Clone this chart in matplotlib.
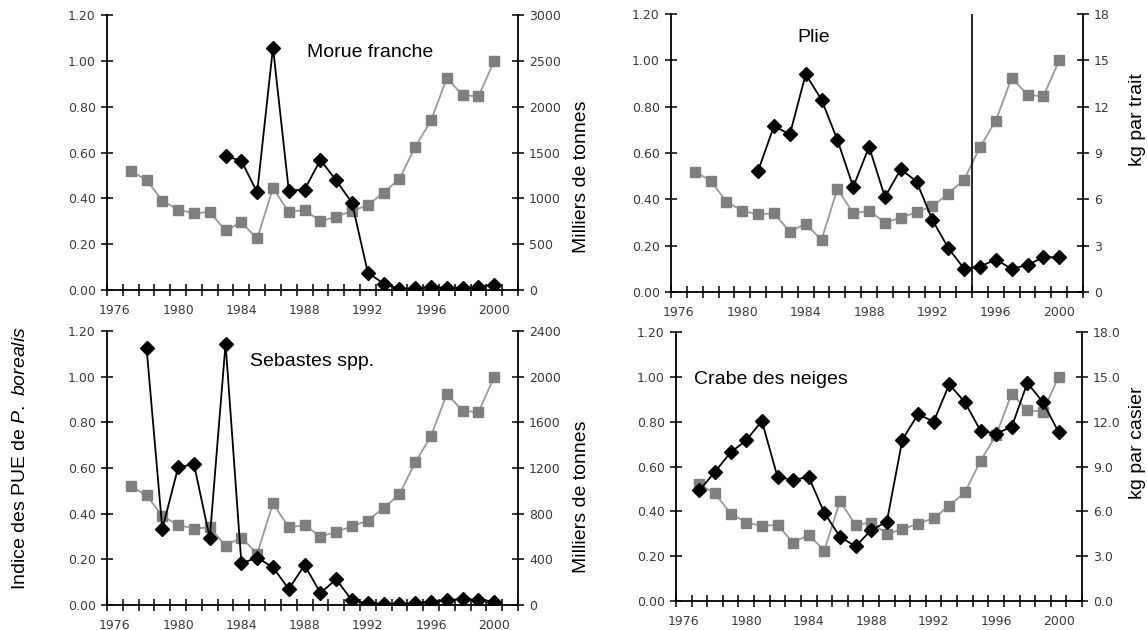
import matplotlib
matplotlib.use("Agg")
import matplotlib.pyplot as plt
from matplotlib.ticker import FixedLocator, FormatStrFormatter

plt.rcParams["font.family"] = ["Liberation Sans", "DejaVu Sans"]
plt.rcParams["mathtext.fontset"] = "custom"
plt.rcParams["mathtext.rm"] = "Liberation Sans"
plt.rcParams["mathtext.it"] = "Liberation Sans:italic"

# P. borealis CPUE index (same grey series in every panel)
index_years = list(range(1977, 2001))
pborealis_index = [0.52, 0.48, 0.39, 0.35, 0.335, 0.34, 0.26, 0.295, 0.225, 0.445,
                   0.34, 0.35, 0.30, 0.32, 0.345, 0.37, 0.425, 0.485, 0.625, 0.74,
                   0.925, 0.85, 0.845, 1.00]

cod_years = list(range(1983, 2001))
cod_values = [1460, 1410, 1065, 2645, 1085, 1095, 1420, 1195, 950, 190,
              70, 10, 18, 33, 26, 26, 33, 60]

plaice_years = list(range(1981, 2001))
plaice_values = [7.85, 10.75, 10.2, 14.1, 12.45, 9.85, 6.8, 9.4, 6.15, 7.95,
                 7.15, 4.65, 2.85, 1.5, 1.65, 2.1, 1.5, 1.75, 2.25, 2.25]

redfish_years = list(range(1978, 2001))
redfish_values = [2255, 665, 1205, 1235, 585, 2290, 365, 415, 330, 140, 350, 105,
                  225, 40, 15, 10, 10, 15, 30, 40, 55, 45, 30]

crab_years = list(range(1977, 2001))
crab_values = [7.4, 8.65, 9.95, 10.75, 12.05, 8.3, 8.1, 8.3, 5.9, 4.3, 3.65, 4.75,
               5.3, 10.8, 12.5, 12.0, 14.5, 13.3, 11.4, 11.2, 11.65, 14.6, 13.3, 11.3]

year_labels = [1976, 1980, 1984, 1988, 1992, 1996, 2000]
left_ticks = [0.0, 0.2, 0.4, 0.6, 0.8, 1.0, 1.2]

TICK_COLOR = "#3a3a3a"
GREY_MARK = "#7f7f7f"
GREY_LINE = "#9a9a9a"

W, H = 1147, 630


def frac_box(x0, x1, y_top, y_bot):
    return [x0 / W, (H - y_bot) / H, (x1 - x0) / W, (y_bot - y_top) / H]


def draw_panel(fig, box, years, values, right_max, right_step, right_fmt, title, title_xy):
    ax = fig.add_axes(box)
    ax.plot(index_years, pborealis_index, color=GREY_LINE, lw=1.3,
            marker="s", ms=7, mfc=GREY_MARK, mec=GREY_MARK, zorder=2)
    ax.set_xlim(1975.5, 2001.5)
    ax.set_ylim(0, 1.2)
    ax.yaxis.set_major_locator(FixedLocator(left_ticks))
    ax.yaxis.set_major_formatter(FormatStrFormatter("%.2f"))
    ax.xaxis.set_major_locator(FixedLocator(year_labels))
    ax.xaxis.set_minor_locator(FixedLocator([1975.5 + k for k in range(27)]))
    ax.tick_params(axis="x", which="major", length=0, pad=10, labelsize=9, labelcolor=TICK_COLOR)
    ax.tick_params(axis="x", which="minor", direction="inout", length=9, width=1.1)
    ax.tick_params(axis="y", direction="inout", length=8, width=1.1, pad=4,
                   labelsize=9, labelcolor=TICK_COLOR)
    for lab in ax.get_xticklabels() + ax.get_yticklabels():
        lab.set_family("DejaVu Sans")
    ax.spines["top"].set_visible(False)
    ax.spines["right"].set_visible(False)
    ax.spines["left"].set_linewidth(1.3)
    ax.spines["bottom"].set_linewidth(1.3)
    ax.patch.set_visible(False)

    ax2 = ax.twinx()
    ax2.plot(years, values, color="black", lw=1.3, marker="D", ms=7.5,
             mfc="black", mec="black", zorder=3)
    ax2.set_ylim(0, right_max)
    ax2.yaxis.set_major_locator(FixedLocator([right_step * k for k in range(7)]))
    ax2.yaxis.set_major_formatter(FormatStrFormatter(right_fmt))
    ax2.tick_params(axis="y", direction="inout", length=8, width=1.1, pad=4,
                    labelsize=9, labelcolor=TICK_COLOR)
    for lab in ax2.get_yticklabels():
        lab.set_family("DejaVu Sans")
    for side in ("top", "left", "bottom"):
        ax2.spines[side].set_visible(False)
    ax2.spines["right"].set_linewidth(1.3)

    ax.text(title_xy[0], title_xy[1], title, transform=ax.transAxes,
            ha="left", va="center", fontsize=14)
    return ax, ax2


fig = plt.figure(figsize=(W / 100, H / 100), dpi=100)

draw_panel(fig, frac_box(107, 518, 15, 290), cod_years, cod_values,
           3000, 500, "%d", "Morue franche", (0.487, 0.865))
ax_p, ax_p2 = draw_panel(fig, frac_box(671, 1083, 14, 292), plaice_years, plaice_values,
                         18, 3, "%d", "Plie", (0.306, 0.914))
ax_p.axvline(1994.5, color="black", lw=1.2, zorder=4)
draw_panel(fig, frac_box(107, 518, 331, 605), redfish_years, redfish_values,
           2400, 400, "%d", "Sebastes spp.", (0.348, 0.887))
draw_panel(fig, frac_box(676, 1082, 332, 601), crab_years, crab_values,
           18, 3, "%.1f", "Crabe des neiges", (0.044, 0.825))

fig.text(582 / W, 1 - 177 / H, "Milliers de tonnes", rotation=90,
         ha="center", va="center", fontsize=14)
fig.text(582 / W, 1 - 497 / H, "Milliers de tonnes", rotation=90,
         ha="center", va="center", fontsize=14)
fig.text(1137 / W, 1 - 120 / H, "kg par trait", rotation=90,
         ha="center", va="center", fontsize=14)
fig.text(1137 / W, 1 - 443 / H, "kg par casier", rotation=90,
         ha="center", va="center", fontsize=14)
fig.text(21 / W, 1 - 458 / H, r"Indice des PUE de $\mathit{P.}$ $\mathit{borealis}$",
         rotation=90, ha="center", va="center", fontsize=14)

fig.savefig("out.png", dpi=100)
